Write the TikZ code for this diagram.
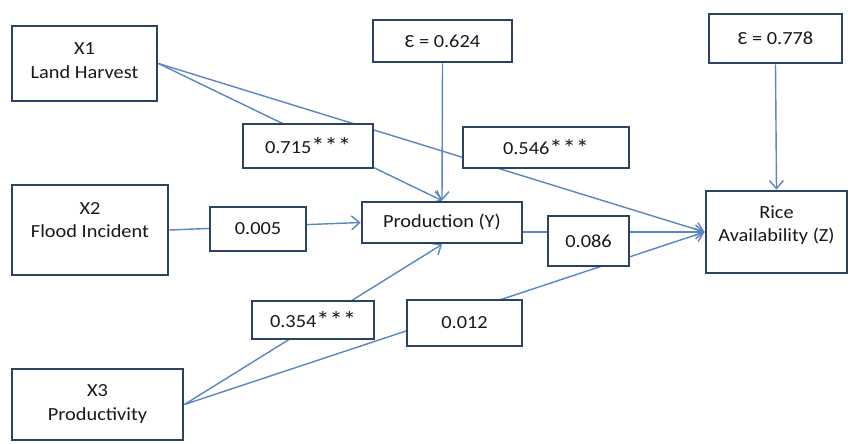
\documentclass[tikz,border=0pt]{standalone}
\usepackage{fontspec}
\setmainfont[FakeStretch=1.1]{Carlito}
\usetikzlibrary{arrows.meta,backgrounds,calc}
\definecolor{boxline}{HTML}{2B4263}
\definecolor{arrline}{HTML}{5A86C0}
\newcommand{\mystars}{\raisebox{-0.08em}{\scalebox{1.3}{***}}}
\begin{document}
\begin{tikzpicture}[x=1pt,y=-1pt,
  every node/.style={font=\fontsize{18.5}{23.5}\selectfont, text=black!90},
  box/.style={draw=boxline, line width=2.8pt, fill=white, inner sep=0pt, align=center},
  txt/.style={inner sep=0pt, align=center},
  conn/.style={draw=arrline, line width=1.4pt},
  arr/.style={conn, -{Straight Barb[length=8pt,width=14pt,line width=1.4pt]}}]
\useasboundingbox (0,0) rectangle (851,444);
% boxes
\node[box, minimum width=145, minimum height=75] (x1) at (84.5,63.5) {};
\node[txt] (x1t) at (84.5,60.5) {X1\\Land Harvest};
\node[box, minimum width=156, minimum height=90] (x2) at (90,230) {};
\node[txt] (x2t) at (90,220) {X2\\Flood Incident};
\node[box, minimum width=171, minimum height=71] (x3) at (97.5,404.5) {};
\node[txt] (x3t) at (97.5,404) {X3\\Productivity};
\node[box, minimum width=139, minimum height=42] (e1) at (442.5,41) {Ɛ = 0.624};
\node[box, minimum width=133, minimum height=49] (e2) at (775.5,38.5) {Ɛ = 0.778};
\node[box, minimum width=160, minimum height=41] (prod) at (442,222.5) {Production (Y)};
\node[box, minimum width=141, minimum height=82] (rice) at (776.5,232) {};
\node[txt] (ricet) at (776.5,225) {Rice\\Availability (Z)};
\node[box, minimum width=130, minimum height=44] (c715) at (308,146) {0.715\mystars};
\node[box, minimum width=166, minimum height=41] (c546) at (546,147.5) {0.546\mystars};
\node[box, minimum width=96, minimum height=44] (c005) at (258,229) {0.005};
\node[box, minimum width=81, minimum height=50] (c086) at (588.5,241) {0.086};
\node[box, minimum width=122, minimum height=38] (c354) at (313,320) {0.354\mystars};
\node[box, minimum width=115, minimum height=46] (c012) at (464.5,323) {0.012};
% connectors
\begin{scope}[on background layer]
\draw[arr] (x1.east) -- (prod.north);
\draw[arr] (x1.east) -- (rice.west);
\draw[arr] (e1.south) -- (prod.north);
\draw[arr] (e2.south) -- (rice.north);
\draw[arr] (x2.east) -- (prod.west);
\draw[arr] (prod.east |- rice.west) -- (rice.west);
\draw[arr] (x3.east) -- (prod.south);
\draw[arr] (x3.east) -- (rice.west);
\end{scope}
\end{tikzpicture}
\end{document}
